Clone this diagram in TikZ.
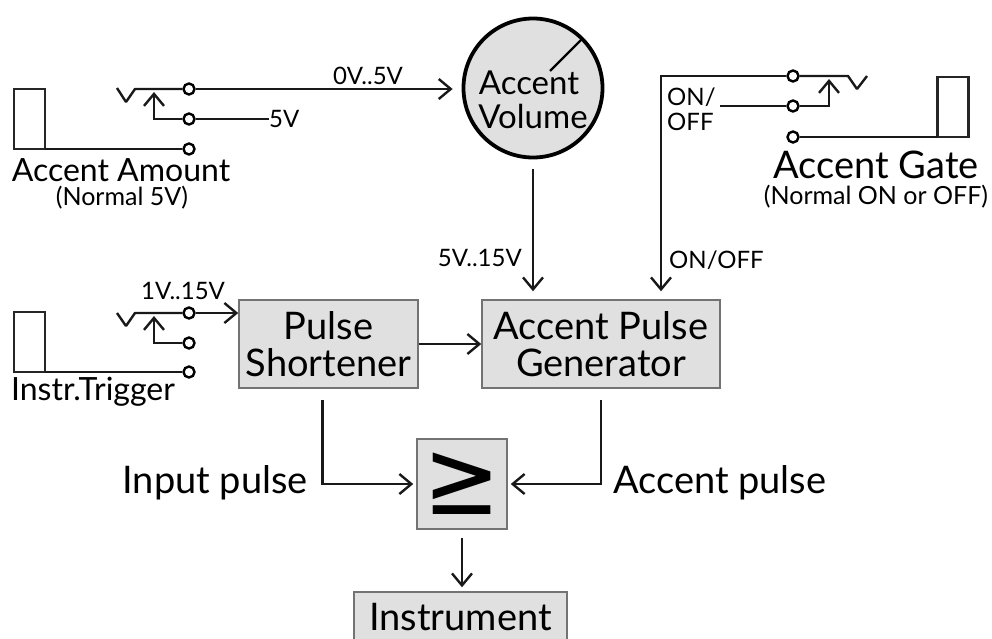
\documentclass[tikz,border=0pt]{standalone}
\usepackage{fontspec}
\setmainfont{Lato}
\newfontfamily\symfont{DejaVu Sans}
\usetikzlibrary{arrows.meta,positioning,calc}
\tikzset{
  block/.style={rectangle, draw=black!55, line width=1.5pt, fill=black!12, align=center,
    font=\fontsize{38}{37}\selectfont, inner sep=0pt},
  knob/.style={circle, draw=black, line width=3.8pt, fill=black!12, minimum size=139pt, inner sep=0pt},
  contact/.style={circle, draw=black, line width=2.4pt, fill=white, minimum size=11pt, inner sep=0pt},
  sleeve/.style={rectangle, draw=black!85, line width=2.4pt, minimum width=31pt, minimum height=60pt,
    inner sep=0pt, outer sep=0pt},
  wire/.style={draw=black!90, line width=2.4pt},
  tr/.style={wire, -{Straight Barb[length=12pt,width=20pt,line width=2.4pt]}},
  knobtext/.style={font=\fontsize{33}{37}\selectfont, inner sep=0pt},
  big/.style={font=\fontsize{38}{37}\selectfont, inner sep=0pt},
  mid/.style={font=\fontsize{32}{34}\selectfont, inner sep=0pt},
  tag/.style={font=\fontsize{24}{26}\selectfont, inner sep=0pt},
  small/.style={font=\fontsize{25}{27}\selectfont, inner sep=0pt},
}
\begin{document}
\begin{tikzpicture}[x=1pt,y=-1pt]
  \useasboundingbox (0,0) rectangle (992,638);
  \clip (0,0) rectangle (992,638);
  % volume knob
  \node[knob] (vol) at (533,88) {};
  \draw[line width=2.4pt] (550,71) -- (583,38);
  \node[knobtext] (volA) at (529,83) {Accent};
  \node[knobtext] (volB) at (533,116) {Volume};
  % blocks
  \node[block, minimum width=179pt, minimum height=88pt] (shortener) at (328.5,344) {Pulse\\Shortener};
  \node[block, minimum width=238pt, minimum height=88pt] (accent) at (601,344) {Accent Pulse\\Generator};
  \node[block, minimum width=90pt, minimum height=90pt] (compare) at (462,484)
    {\symfont\fontsize{92}{92}\selectfont\scalebox{1}[1.15]{≥}};
  \node[block, minimum width=213pt, minimum height=50pt] (instrument) at (460.5,617) {Instrument};
  % accent amount jack
  \node[sleeve] (amountS) at (29.5,119) {};
  \node[contact] (amountT) at (189,89) {};
  \node[contact] (amountN) at (189,119) {};
  \node[contact] (amountG) at (189,149) {};
  \coordinate (amountV) at (117,88);
  \draw[wire, line join=bevel] (amountV) -- (126,102) -- (135,89) -- (amountT);
  \draw[tr] (amountN) -| (154,92);
  \draw[wire] (amountS.south east) -- (amountG);
  \node[tag, anchor=west] (fivev) at (269,119) {5V};
  \draw[wire] (amountN) -- (fivev);
  \node[mid] (amountL) at (121,170) {Accent Amount};
  \node[small] (amountM) at (122,198) {(Normal 5V)};
  % trigger jack
  \node[sleeve] (trigS) at (29.5,342) {};
  \node[contact] (trigT) at (189,313) {};
  \node[contact] (trigN) at (189,343) {};
  \node[contact] (trigG) at (189,372) {};
  \coordinate (trigV) at (117,313);
  \draw[wire, line join=bevel] (trigV) -- (126,326) -- (135,313) -- (trigT);
  \draw[tr] (trigN) -| (154,316);
  \draw[wire] (trigS.south east) -- (trigG);
  \node[mid] (trigL) at (93,392) {Instr.Trigger};
  % gate jack
  \node[sleeve] (gateS) at (953,107) {};
  \node[contact] (gateT) at (793,76) {};
  \node[contact] (gateN) at (793,106) {};
  \node[contact] (gateG) at (793,137) {};
  \coordinate (gateV) at (867,76);
  \draw[wire, line join=bevel] (gateT) -- (848,76) -- (857,89) -- (gateV);
  \draw[tr] (gateN) -| (829,79);
  \draw[wire] (gateS.south west) -- (gateG);
  \coordinate (gateF) at (720,106);
  \draw[wire] (gateF) -- (gateN);
  \node[tag, anchor=west] (onoffA) at (667,97) {ON/};
  \node[tag, anchor=west] (onoffB) at (667,122) {OFF};
  \node[big] (gateL) at (876,165) {Accent Gate};
  \node[small] (gateM) at (876,197) {(Normal ON or OFF)};
  % connectors
  \draw[tr, shorten >=9pt] (amountT) -- (amountT -| vol.west);
  \node[tag] (zero) at (368,76) {0V..5V};
  \draw[tr, shorten <=10pt, shorten >=8pt] (vol) -- (vol |- accent.north);
  \node[tag, anchor=east] (volt) at (522,258) {5V..15V};
  \draw[tr] (gateT) -- (661,76) -- ($(661,76 |- accent.north)+(0,-8)$);
  \node[tag, anchor=west] (gatet) at (669,260) {ON/OFF};
  \draw[tr] (trigT) -- (shortener.west |- trigT);
  \node[tag] (one) at (183,291) {1V..15V};
  \draw[tr] (shortener.east |- accent.center) -- (accent.west |- accent.center);
  \coordinate (inA) at ($(shortener.south)+(-6,11)$);
  \coordinate (acA) at ($(accent.south)+(0,11)$);
  \draw[tr, shorten >=3pt] (inA) |- (compare.west);
  \draw[tr, shorten >=3pt] (acA) |- (compare.east);
  \draw[tr, shorten <=9pt, shorten >=4pt] (compare) ++(0,45) coordinate (cmpB) (cmpB) -- (instrument.north -| cmpB);
  \node[big, anchor=east] (inL) at (308,483) {Input pulse};
  \node[big, anchor=west] (acL) at (613,483) {Accent pulse};
\end{tikzpicture}
\end{document}
